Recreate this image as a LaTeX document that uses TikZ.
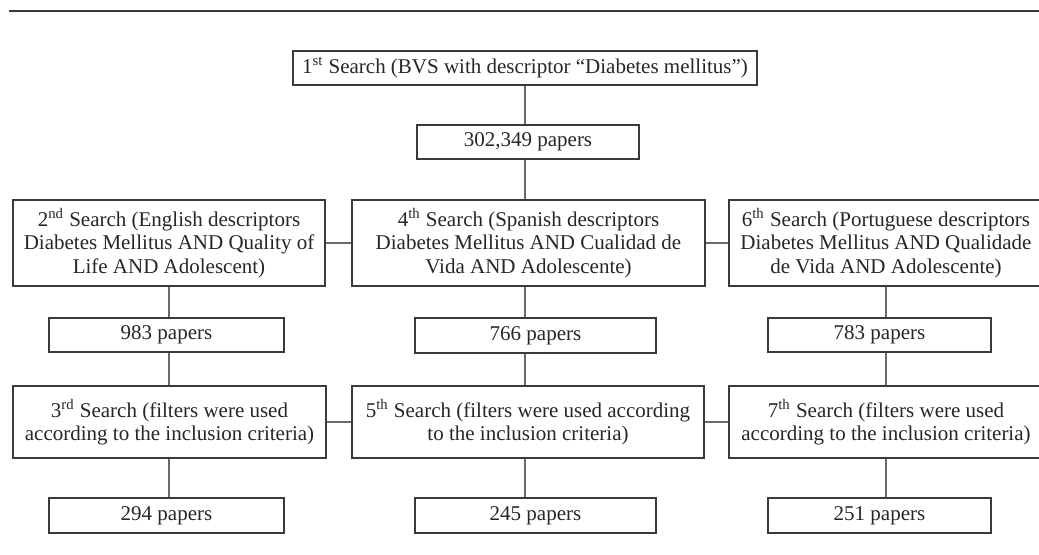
\documentclass[tikz,border=0pt]{standalone}
\usepackage{fontspec}
\setmainfont{Liberation Serif}
\usepackage{tikz}

\definecolor{boxline}{HTML}{3A3A3A}
\definecolor{linkline}{HTML}{6A6A6A}

\tikzset{
  searchbox/.style={draw=boxline, line width=0.6pt, inner sep=0pt, align=center,
    text=black!85, font=\fontsize{10.5}{11.6}\selectfont},
  link/.style={draw=linkline, line width=0.6pt},
}

\begin{document}
\begin{tikzpicture}[x=0.5pt,y=-0.5pt]

\useasboundingbox (0,0) rectangle (1039,555);

\draw[boxline, line width=0.9pt] (9,11) -- (1039,11);

% first search and total
\node[searchbox, minimum width=232pt, minimum height=17pt] (s1) at (525,68)
  {1\textsuperscript{st} Search (BVS with descriptor “Diabetes mellitus”)};
\node[searchbox, minimum width=111pt, minimum height=17pt] (n1) at (528,142) {302,349 papers};

% language searches
\node[searchbox, minimum width=156pt, minimum height=43pt] (s2) at (169,243)
  {2\textsuperscript{nd} Search (English descriptors\\Diabetes Mellitus AND Quality of\\Life AND Adolescent)};
\node[searchbox, minimum width=176.5pt, minimum height=43pt] (s4) at (528.5,243)
  {4\textsuperscript{th} Search (Spanish descriptors\\Diabetes Mellitus AND Cualidad de\\Vida AND Adolescente)};
\node[searchbox, minimum width=157pt, minimum height=43pt] (s6) at (886,243)
  {6\textsuperscript{th} Search (Portuguese descriptors\\Diabetes Mellitus AND Qualidade\\de Vida AND Adolescente)};

\node[searchbox, minimum width=117.5pt, minimum height=17pt] (p2) at (166.5,335) {983 papers};
\node[searchbox, minimum width=120.5pt, minimum height=17.5pt] (p4) at (535.5,335.5) {766 papers};
\node[searchbox, minimum width=111.5pt, minimum height=17pt] (p6) at (879.5,335) {783 papers};

% filtered searches
\node[searchbox, minimum width=156.5pt, minimum height=36pt] (s3) at (169.5,422)
  {3\textsuperscript{rd} Search (filters were used\\according to the inclusion criteria)};
\node[searchbox, minimum width=176pt, minimum height=36pt] (s5) at (528,422)
  {5\textsuperscript{th} Search (filters were used according\\to the inclusion criteria)};
\node[searchbox, minimum width=157pt, minimum height=36pt] (s7) at (886,422)
  {7\textsuperscript{th} Search (filters were used\\according to the inclusion criteria)};

\node[searchbox, minimum width=117.5pt, minimum height=17.5pt] (q3) at (166.5,515.5) {294 papers};
\node[searchbox, minimum width=120.5pt, minimum height=17.5pt] (q5) at (535.5,515.5) {245 papers};
\node[searchbox, minimum width=111.5pt, minimum height=17.5pt] (q7) at (879.5,515.5) {251 papers};

% vertical links, column taken from \c
\foreach \c/\a/\b in {s1/s1/n1, s1/n1/s4, s1/s4/p4, s1/p4/s5, s1/s5/q5,
                      s2/s2/p2, s2/p2/s3, s2/s3/q3,
                      s6/s6/p6, s6/p6/s7, s6/s7/q7}
  \draw[link] (\c.south |- \a.south) -- (\c.south |- \b.north);

% horizontal links
\foreach \a/\b in {s2/s4, s4/s6, s3/s5, s5/s7}
  \draw[link] (\a.east) -- (\b.west);

\end{tikzpicture}
\end{document}
